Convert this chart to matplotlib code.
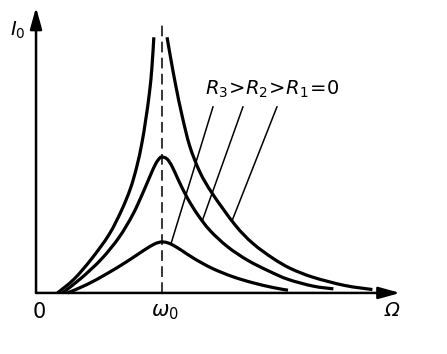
import numpy as np
import matplotlib

matplotlib.use("Agg")
import matplotlib.pyplot as plt
from matplotlib.patches import FancyArrowPatch, PathPatch
from matplotlib.path import Path

# Resonance curves I0(Omega), Omega in units of omega0, I0 in arbitrary units
# R1 = 0: two branches diverging at omega0
r1_left_x = [0.17, 0.30, 0.44, 0.58, 0.68, 0.75, 0.80, 0.84, 0.87, 0.90, 0.92, 0.935]
r1_left_y = [0.00, 0.10, 0.25, 0.43, 0.61, 0.77, 0.93, 1.10, 1.27, 1.47, 1.66, 1.88]
r1_right_x = [1.04, 1.07, 1.11, 1.16, 1.22, 1.30, 1.40, 1.58, 1.72, 1.88, 2.02, 2.20, 2.45, 2.67]
r1_right_y = [1.88, 1.72, 1.52, 1.30, 1.08, 0.89, 0.73, 0.50, 0.365, 0.255, 0.18, 0.115, 0.055, 0.025]

r2_x = [0.21, 0.36, 0.52, 0.66, 0.77, 0.85, 0.91, 0.95, 0.98, 1.00, 1.04, 1.08,
        1.13, 1.20, 1.28, 1.38, 1.52, 1.68, 1.85, 2.00, 2.20, 2.36]
r2_y = [0.00, 0.11, 0.25, 0.41, 0.58, 0.74, 0.87, 0.95, 0.99, 1.00, 0.985, 0.93,
        0.83, 0.70, 0.58, 0.46, 0.34, 0.24, 0.16, 0.10, 0.05, 0.03]

r3_x = [0.25, 0.40, 0.56, 0.72, 0.85, 0.93, 0.97, 1.00, 1.04, 1.09, 1.16, 1.26,
        1.40, 1.56, 1.72, 1.88, 2.00]
r3_y = [0.00, 0.06, 0.14, 0.23, 0.31, 0.355, 0.37, 0.375, 0.37, 0.35, 0.31, 0.25,
        0.18, 0.12, 0.075, 0.04, 0.02]

omega0 = 1.0
label_text = r"$R_3\!>\!R_2\!>\!R_1\!=\!0$"


def smooth_path(xs, ys):
    # Catmull-Rom through the read points, drawn as cubic Bezier segments
    pts = np.column_stack([xs, ys]).astype(float)
    p = np.vstack([pts[0], pts, pts[-1]])
    verts = [pts[0]]
    codes = [Path.MOVETO]
    for i in range(1, len(p) - 2):
        p0, p1, p2, p3 = p[i - 1], p[i], p[i + 1], p[i + 2]
        verts += [p1 + (p2 - p0) / 6, p2 - (p3 - p1) / 6, p2]
        codes += [Path.CURVE4] * 3
    return Path(verts, codes)


fig = plt.figure(figsize=(4.47, 3.54), dpi=100)
ax = fig.add_axes([0, 0, 1, 1])
ax.set_xlim(-0.286, 3.262)
ax.set_ylim(-0.449, 2.154)
ax.axis("off")

for cx, cy in [(r1_left_x, r1_left_y), (r1_right_x, r1_right_y), (r2_x, r2_y), (r3_x, r3_y)]:
    ax.add_patch(PathPatch(smooth_path(cx, cy), fill=False, edgecolor="black", lw=2.3,
                           capstyle="butt", joinstyle="round"))

# dashed line at resonance
ax.plot([omega0, omega0], [0, 1.97], color="black", lw=1.1, ls=(0, (7, 3.5)))

# axes with arrows
for start, end in [((0, 0), (2.89, 0)), ((0, 0), (0, 2.10))]:
    ax.add_patch(FancyArrowPatch(start, end, arrowstyle="-|>,head_length=1.3,head_width=0.36",
                                 mutation_scale=10, color="black", lw=1.8, shrinkA=0, shrinkB=0))

# label with leader lines to each curve
ax.text(1.87, 1.50, label_text, ha="center", va="center", fontsize=14)
leaders = [(1.405, 1.07, r3_x, r3_y), (1.643, 1.32, r2_x, r2_y), (1.913, 1.556, r1_right_x, r1_right_y)]
for x0, xt, cx, cy in leaders:
    yt = np.interp(xt, cx, cy)
    ax.annotate("", xy=(xt, yt), xytext=(x0, 1.37),
                arrowprops=dict(arrowstyle="-", lw=1.1, color="black", shrinkA=0, shrinkB=0))

ax.text(-0.143, 1.93, r"$I_0$", ha="center", va="center", fontsize=14)
ax.text(0.024, -0.14, "0", ha="center", va="center", fontsize=15)
ax.text(1.02, -0.07, r"$\omega_0$", ha="center", va="top", fontsize=15)
ax.text(2.825, -0.13, "Ω", ha="center", va="center", fontsize=14, style="italic")

fig.savefig("out.png", dpi=100)
